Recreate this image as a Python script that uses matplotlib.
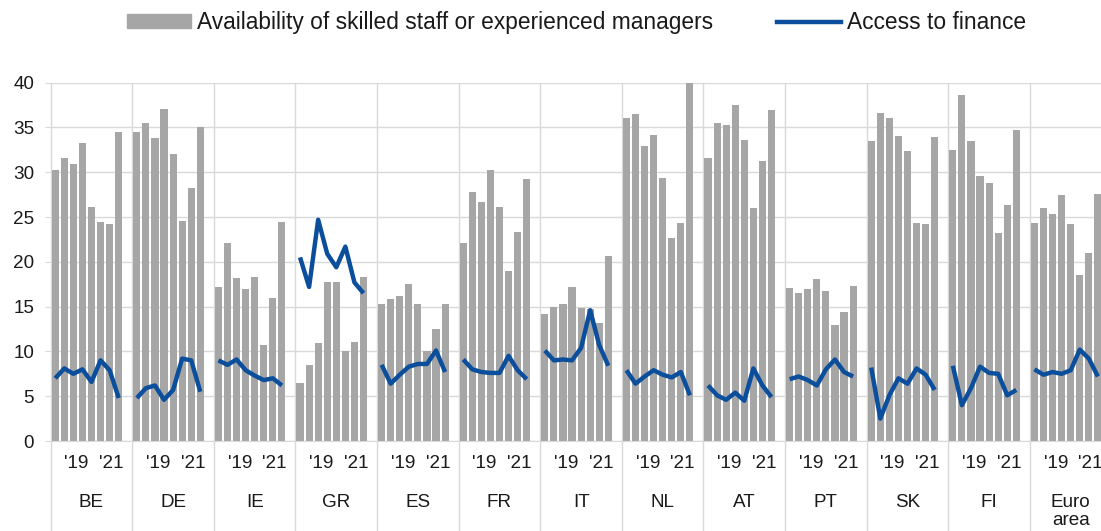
import numpy as np
import matplotlib
matplotlib.use('Agg')
import matplotlib.pyplot as plt
from matplotlib.patches import Patch
from matplotlib.lines import Line2D
import matplotlib.transforms as mtransforms

plt.rcParams['font.family'] = ['Liberation Sans', 'DejaVu Sans']

####################################################################################
# data (8 survey rounds per country)
####################################################################################
countries = ['BE', 'DE', 'IE', 'GR', 'ES', 'FR', 'IT', 'NL', 'AT', 'PT', 'SK', 'FI', 'Euro\narea']
year_labels = ["'19", "'21"]

skilled_staff = [
    [30.2, 31.6, 30.9, 33.3, 26.1, 24.5, 24.2, 34.5],   # BE
    [34.5, 35.5, 33.8, 37.1, 32.0, 24.6, 28.3, 35.1],   # DE
    [17.2, 22.1, 18.2, 17.0, 18.3, 10.7, 16.0, 24.5],   # IE
    [6.5, 8.5, 10.9, 17.7, 17.8, 10.1, 11.1, 18.3],     # GR
    [15.3, 15.8, 16.2, 17.5, 15.3, 10.0, 12.5, 15.3],   # ES
    [22.1, 27.8, 26.7, 30.3, 26.1, 19.0, 23.3, 29.3],   # FR
    [14.2, 15.0, 15.3, 17.2, 14.9, 14.7, 13.2, 20.7],   # IT
    [36.1, 36.5, 32.9, 34.2, 29.4, 22.7, 24.3, 40.2],   # NL
    [31.6, 35.5, 35.3, 37.5, 33.6, 26.0, 31.3, 37.0],   # AT
    [17.1, 16.5, 17.0, 18.1, 16.8, 13.0, 14.4, 17.3],   # PT
    [33.5, 36.6, 36.1, 34.1, 32.4, 24.3, 24.2, 33.9],   # SK
    [32.5, 38.6, 33.5, 29.6, 28.8, 23.2, 26.3, 34.7],   # FI
    [24.3, 26.0, 25.3, 27.5, 24.2, 18.5, 21.0, 27.6],   # Euro area
]

access_finance = [
    [7.0, 8.1, 7.5, 8.0, 6.6, 9.0, 7.9, 4.8],           # BE
    [4.8, 5.9, 6.2, 4.6, 5.7, 9.2, 9.0, 5.5],           # DE
    [9.0, 8.5, 9.1, 7.9, 7.3, 6.8, 7.0, 6.2],           # IE
    [20.5, 17.2, 24.7, 20.9, 19.4, 21.7, 17.7, 16.5],   # GR
    [8.5, 6.4, 7.4, 8.3, 8.6, 8.6, 10.1, 7.7],          # ES
    [9.1, 8.0, 7.7, 7.6, 7.6, 9.5, 7.9, 6.9],           # FR
    [10.1, 9.0, 9.1, 9.0, 10.4, 14.6, 10.7, 8.4],       # IT
    [7.9, 6.4, 7.2, 7.9, 7.4, 7.1, 7.7, 5.1],           # NL
    [6.2, 5.1, 4.6, 5.4, 4.5, 8.1, 6.2, 4.9],           # AT
    [6.9, 7.2, 6.8, 6.2, 8.0, 9.1, 7.7, 7.2],           # PT
    [8.2, 2.5, 5.1, 7.0, 6.4, 8.1, 7.4, 5.7],           # SK
    [8.4, 4.0, 5.9, 8.3, 7.6, 7.5, 5.1, 5.7],           # FI
    [8.0, 7.4, 7.7, 7.5, 7.9, 10.2, 9.2, 7.2],          # Euro area
]

####################################################################################
# layout
####################################################################################
bar_color = '#a6a6a6'
line_color = '#0b4f9c'
grid_color = '#d9d9d9'
text_color = '#1a1a1a'

n_rounds = 8
slots = n_rounds + 1   # one empty slot per country group
n_groups = len(countries)

fig = plt.figure(figsize=(11.01, 5.31), dpi=100)
ax = fig.add_axes([50.7/1101, 1-441/531, n_groups*81.6/1101, (441-82.7)/531])

for g in range(n_groups):
    x = g*slots + np.arange(n_rounds) + 0.5
    ax.bar(x, skilled_staff[g], width=0.78, color=bar_color, zorder=2)
    ax.plot(x, access_finance[g], color=line_color, lw=3.2, zorder=3,
            solid_joinstyle='round', solid_capstyle='butt')

ax.set_xlim(0, n_groups*slots)
ax.set_ylim(0, 40)
ax.set_yticks(np.arange(0, 41, 5))
ax.yaxis.grid(True, color=grid_color, lw=1, zorder=0)
ax.set_axisbelow(True)
for s in ['top', 'right', 'left']:
    ax.spines[s].set_visible(False)
ax.spines['bottom'].set_color(grid_color)
ax.tick_params(axis='y', length=4, color=grid_color, pad=8, labelsize=13.6,
               labelcolor=text_color)

# year ticks inside each group
ticks = []
labels = []
for g in range(n_groups):
    ticks += [g*slots + 2.85, g*slots + 6.7]
    labels += year_labels
ax.set_xticks(ticks)
ax.set_xticklabels(labels)
ax.tick_params(axis='x', length=0, pad=10, labelsize=13.6, labelcolor=text_color)

# group separators running down through the label area
trans = mtransforms.blended_transform_factory(ax.transData, ax.transAxes)
for g in range(n_groups + 1):
    ax.plot([g*slots, g*slots], [-0.26, 1], color=grid_color, lw=1,
            transform=trans, clip_on=False, zorder=1)

for g, name in enumerate(countries):
    ax.text(g*slots + slots/2, -0.148, name, transform=trans, ha='center', va='top',
            fontsize=13.6, color=text_color, linespacing=1.05)

handles = [Patch(color=bar_color), Line2D([], [], color=line_color, lw=3.2)]
fig.legend(handles, ['Availability of skilled staff or experienced managers', 'Access to finance'],
           loc='center', bbox_to_anchor=(0.524, 0.957), ncol=2, frameon=False,
           fontsize=16.4, handlelength=2.8, handleheight=0.55, handletextpad=0.27,
           columnspacing=2.8, labelcolor=text_color)

fig.savefig('out.png', dpi=100)
